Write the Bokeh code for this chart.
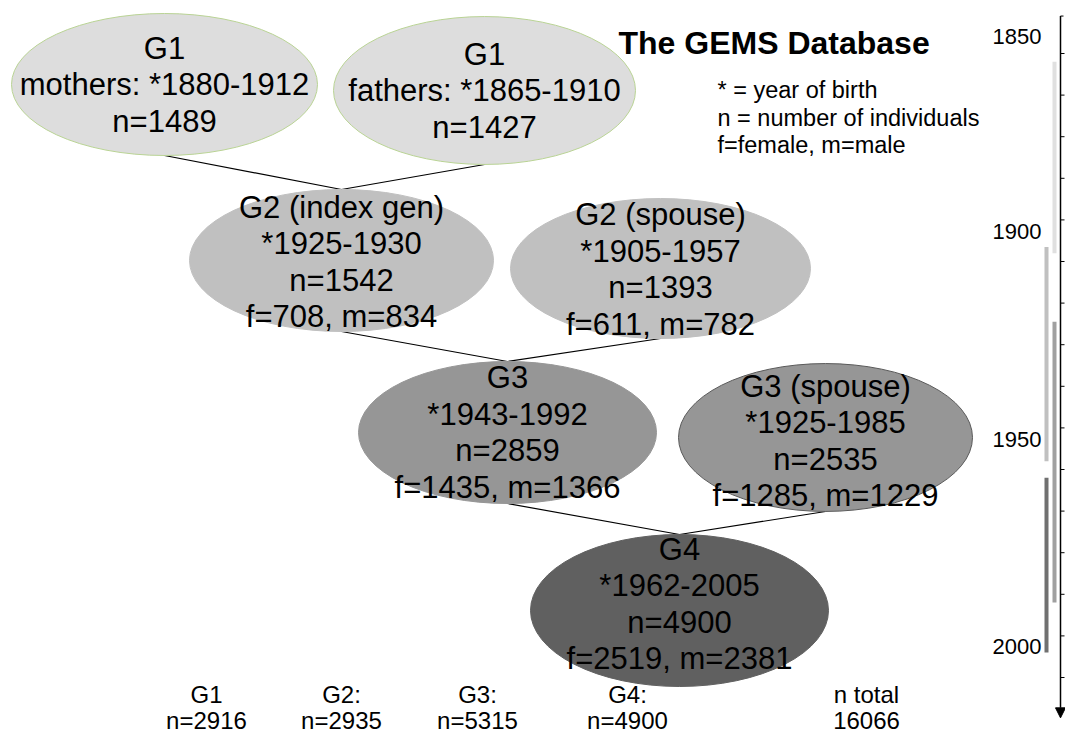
from bokeh.plotting import figure
from bokeh.models import Range1d, Arrow, NormalHead
from bokeh.core.properties import value
from bokeh.embed import file_html
from bokeh.resources import INLINE

FONT = "Liberation Sans"

# ---------------- data ----------------
node_title = ["G1", "G1", "G2 (index gen)", "G2 (spouse)", "G3", "G3 (spouse)", "G4"]
node_role = ["mothers: ", "fathers: ", "", "", "", "", ""]
node_birth = ["1880-1912", "1865-1910", "1925-1930", "1905-1957", "1943-1992", "1925-1985", "1962-2005"]
node_n = [1489, 1427, 1542, 1393, 2859, 2535, 4900]
node_f = [None, None, 708, 611, 1435, 1285, 2519]
node_m = [None, None, 834, 782, 1366, 1229, 2381]
links = [(0, 2), (1, 2), (2, 4), (3, 4), (4, 6), (5, 6)]

gen_labels = ["G1", "G2:", "G3:", "G4:", "n total"]
gen_totals = ["n=2916", "n=2935", "n=5315", "n=4900", "16066"]

title_text = "The GEMS Database"
legend_lines = ["* = year of birth", "n = number of individuals", "f=female, m=male"]

timeline_labels = [1850, 1900, 1950, 2000]
bar_start = [1862, 1906.5, 1924.5, 1962]
bar_end = [1908, 1958, 1992, 2004]
tick_years = list(range(1860, 2011, 10))

# ---------------- layout / style ----------------
W, H = 1065, 735
node_cx = [164, 484, 341, 660, 507, 825, 679]
node_cy = [84, 90, 260, 268, 432, 437, 610]
node_w = [306, 302, 304, 300, 298, 294, 298]
node_h = [142, 148, 142, 140, 142, 148, 152]
node_text_dy = [0, 0, 1.5, 1, 0, 3.5, -6.5]
node_fill = ["#dddddd", "#dddddd", "#c0c0c0", "#c0c0c0", "#969696", "#969696", "#606060"]
node_line = ["#b9d394", "#b9d394", "#c0c0c0", "#c0c0c0", "#969696", "#5a5a5a", "#606060"]
line_step = 36.5

bar_x = [1054, 1046, 1054, 1046]
bar_colors = ["#e0e0e0", "#c0c0c0", "#a0a0a0", "#707070"]
axis_x = 1060
axis_start_year, axis_end_year = 1851, 2019.7
label_right_x = 1041
label_pos_years = [1855.9, 1902.9, 1952.8, 2002.5]

gen_x = [206, 341, 477, 627, 866]
gen_row1_y, gen_row2_y = 694, 720

p = figure(width=W, height=H, x_range=Range1d(0, W), y_range=Range1d(H, 0),
           output_backend="svg", toolbar_location=None, min_border=0,
           x_axis_location=None, y_axis_location=None)
p.grid.visible = False
p.outline_line_color = None
p.background_fill_color = "white"
p.border_fill_color = "white"
# year scale of the timeline: 1860 -> 53 px, 41.6 px per decade
p.extra_y_ranges = {"yr": Range1d(start=1850 + (H - 11.4) / 4.16, end=1850 - 11.4 / 4.16)}

# connectors (behind ellipses)
p.segment(x0=[node_cx[a] for a, b in links],
          y0=[node_cy[a] + node_h[a] / 2 for a, b in links],
          x1=[node_cx[b] for a, b in links],
          y1=[node_cy[b] - node_h[b] / 2 for a, b in links],
          line_color="black", line_width=1.2)

# ellipses
p.ellipse(x=node_cx, y=node_cy, width=node_w, height=node_h,
          fill_color=node_fill, line_color=node_line, line_width=1)

# ellipse texts
tx, ty, tt = [], [], []
for i in range(len(node_title)):
    lines = [node_title[i], f"{node_role[i]}*{node_birth[i]}", f"n={node_n[i]}"]
    if node_f[i] is not None:
        lines.append(f"f={node_f[i]}, m={node_m[i]}")
    k = len(lines)
    for j, s in enumerate(lines):
        tx.append(node_cx[i])
        ty.append(node_cy[i] + node_text_dy[i] + (j - (k - 1) / 2) * line_step)
        tt.append(s)
p.text(x=tx, y=ty, text=tt, text_font=value(FONT), text_font_size="31px",
       text_align="center", text_baseline="middle", text_color="black")

# title & legend
p.text(x=[618], y=[42], text=[title_text], text_font=value(FONT), text_font_size="32px",
       text_font_style="bold", text_align="left", text_baseline="middle", text_color="black")
p.text(x=[717] * 3, y=[89, 117, 144], text=legend_lines, text_font=value(FONT),
       text_font_size="23.5px", text_align="left", text_baseline="middle", text_color="black")

# bottom totals
p.text(x=gen_x, y=[gen_row1_y] * 5, text=gen_labels, text_font=value(FONT), text_font_size="24px",
       text_align="center", text_baseline="middle", text_color="black")
p.text(x=gen_x, y=[gen_row2_y] * 5, text=gen_totals, text_font=value(FONT), text_font_size="24px",
       text_align="center", text_baseline="middle", text_color="black")

# timeline
p.vbar(x=bar_x, bottom=bar_start, top=bar_end, width=4, fill_color=bar_colors,
       line_color=None, y_range_name="yr")
p.segment(x0=[axis_x] * len(tick_years), y0=tick_years, x1=[axis_x + 4] * len(tick_years),
          y1=tick_years, line_color="black", line_width=1, y_range_name="yr")
p.segment(x0=[axis_x], y0=[axis_start_year], x1=[axis_x + 3], y1=[axis_start_year],
          line_color="black", line_width=1, y_range_name="yr")
p.add_layout(Arrow(end=NormalHead(size=10, fill_color="black", line_color="black"),
                   x_start=axis_x, y_start=axis_start_year, x_end=axis_x, y_end=axis_end_year,
                   line_color="black", line_width=1.5, y_range_name="yr"))
p.text(x=[label_right_x] * 4, y=label_pos_years, text=[str(v) for v in timeline_labels],
       text_font=value(FONT), text_font_size="22px", text_align="right", text_baseline="middle",
       text_color="black", y_range_name="yr")

open("out.html", "w").write(file_html(p, INLINE))
